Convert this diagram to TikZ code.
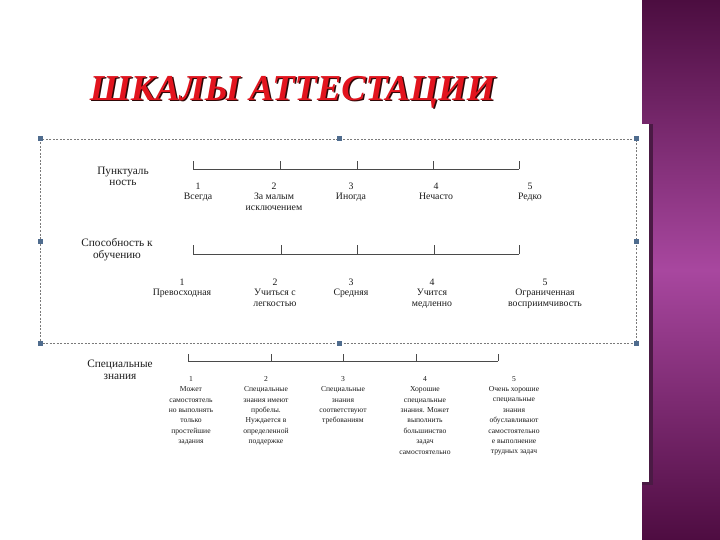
\documentclass[tikz,border=0pt]{standalone}
\usepackage{fontspec}
\setmainfont{Liberation Serif}
\definecolor{linegray}{HTML}{4A4A4A}
\definecolor{txt}{HTML}{1C1C1C}
\definecolor{dashgray}{HTML}{7A7A7A}
\definecolor{handleblue}{HTML}{4F6C8E}
\definecolor{titlered}{HTML}{E2141E}
\definecolor{titleshadow}{HTML}{2E0808}
\definecolor{purpletop}{HTML}{4C0D40}
\definecolor{purplemid}{HTML}{A8479F}
\definecolor{purplebot}{HTML}{4E0C41}
\definecolor{edgedark}{HTML}{4A1A44}
\begin{document}
\begin{tikzpicture}[x=1pt,y=-1pt,
  scaleline/.style={draw=linegray, line width=0.9pt},
  ticklab/.style={font=\fontsize{9.8}{10.5}\selectfont, align=center, inner sep=0pt, anchor=north, text=txt},
  detlab/.style={font=\fontsize{7.6}{10.4}\selectfont, align=center, inner sep=0pt, anchor=north, text=txt},
  rowlab/.style={font=\fontsize{11.3}{11.5}\selectfont, align=center, inner sep=0pt, text=txt},
  handle/.style={fill=handleblue, draw=none, minimum size=5pt, inner sep=0pt, rectangle},
  titlefont/.style={font=\fontsize{36.5}{40}\selectfont\bfseries\itshape, inner sep=0pt}
]
\useasboundingbox (0,0) rectangle (720,540);
\fill[white] (0,0) rectangle (720,540);
% purple side bar
\shade[top color=purpletop, bottom color=purplebot, middle color=purplemid] (642,0) rectangle (720,540);
% picture frame (white image over the bar) with its dark edge
\fill[edgedark] (642,124) rectangle (653,485);
\fill[white] (0,124) rectangle (649,482);

% title
\node[titlefont, text=titleshadow] (titleshade) at (294,93.5) {ШКАЛЫ АТТЕСТАЦИИ};
\node[titlefont, text=titlered] (title) at (292.5,92) {ШКАЛЫ АТТЕСТАЦИИ};

% selection frame
\draw[dashgray, line width=0.5pt, dash pattern=on 2pt off 1.5pt] (40,139) rectangle (636,343);
\foreach \n/\x/\y in {h1/40/139, h2/339/139, h3/636/139, h4/40/241, h5/636/241, h6/40/343, h7/339/343, h8/636/343}
  \node[handle] (\n) at (\x,\y) {};

% ---------- row 1: punctuality ----------
\node[rowlab] (lab1) at (123,176.5) {Пунктуаль\\ность};
\coordinate (a1) at (193,169);
\coordinate (a2) at (280,169);
\coordinate (a3) at (357,169);
\coordinate (a4) at (433,169);
\coordinate (a5) at (519,169);
\draw[scaleline] (a1) -- (a5);
\foreach \c in {a1,a2,a3,a4,a5} \draw[scaleline] (\c) -- ++(0,-8);
\node[ticklab] (a1t) at (198,182.5) {1\\Всегда};
\node[ticklab] (a2t) at (274,182.5) {2\\За малым\\исключением};
\node[ticklab] (a3t) at (351,182.5) {3\\Иногда};
\node[ticklab] (a4t) at (436,182.5) {4\\Нечасто};
\node[ticklab] (a5t) at (530,182.5) {5\\Редко};

% ---------- row 2: ability to learn ----------
\node[rowlab] (lab2) at (117,249.5) {Способность к\\обучению};
\coordinate (b1) at (193,254);
\coordinate (b2) at (281,254);
\coordinate (b3) at (357,254);
\coordinate (b4) at (434,254);
\coordinate (b5) at (519,254);
\draw[scaleline] (b1) -- (b5);
\foreach \c in {b1,b2,b3,b4,b5} \draw[scaleline] (\c) -- ++(0,-9);
\node[ticklab] (b1t) at (182,278.5) {1\\Превосходная};
\node[ticklab] (b2t) at (275,278.5) {2\\Учиться с\\легкостью};
\node[ticklab] (b3t) at (351,278.5) {3\\Средняя};
\node[ticklab] (b4t) at (432,278.5) {4\\Учится\\медленно};
\node[ticklab] (b5t) at (545,278.5) {5\\Ограниченная\\восприимчивость};

% ---------- row 3: special knowledge ----------
\node[rowlab] (lab3) at (120,370) {Специальные\\знания};
\coordinate (c1) at (188,361);
\coordinate (c2) at (271,361);
\coordinate (c3) at (343,361);
\coordinate (c4) at (416,361);
\coordinate (c5) at (498,361);
\draw[scaleline] (c1) -- (c5);
\foreach \c in {c1,c2,c3,c4,c5} \draw[scaleline] (\c) -- ++(0,-7);
\node[detlab] (c1t) at (191,376) {1\\Может\\самостоятель\\но выполнять\\только\\простейшие\\задания};
\node[detlab] (c2t) at (266,376) {2\\Специальные\\знания имеют\\пробелы.\\Нуждается в\\определенной\\поддержке};
\node[detlab] (c3t) at (343,376) {3\\Специальные\\знания\\соответствуют\\требованиям};
\node[detlab] (c4t) at (425,376) {4\\Хорошие\\специальные\\знания. Может\\выполнить\\большинство\\задач\\самостоятельно};
\node[detlab] (c5t) at (514,376) {5\\Очень хорошие\\специальные\\знания\\обуславливают\\самостоятельно\\е выполнение\\трудных задач};
\end{tikzpicture}
\end{document}
